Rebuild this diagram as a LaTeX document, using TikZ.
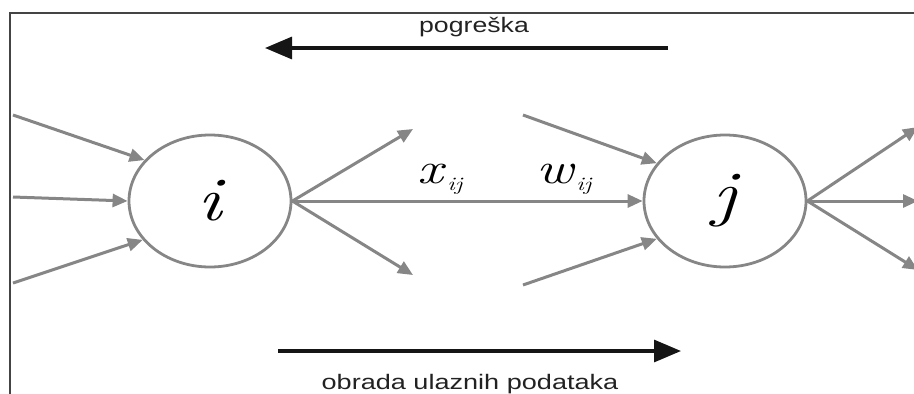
\documentclass[tikz,border=0pt]{standalone}
\usepackage{fontspec}
\newfontfamily\labfont{Liberation Sans}
\usetikzlibrary{shapes.geometric,arrows.meta}
\definecolor{linegray}{HTML}{868686}
\definecolor{framegray}{HTML}{444444}
\definecolor{arrowblack}{HTML}{151515}
\definecolor{textdark}{HTML}{222222}
\tikzset{
  neuron/.style={ellipse, draw=linegray, line width=2.8pt, minimum width=162pt,
    minimum height=132pt, inner sep=0pt, text=black,
    font=\fontsize{62}{62}\selectfont\itshape},
  conn/.style={draw=linegray, line width=3pt, -{Triangle[length=15pt,width=13pt]}},
  flow/.style={draw=arrowblack, line width=3.2pt, -{Triangle[length=27pt,width=22pt]}},
  caption/.style={font=\labfont\fontsize{21}{21}\selectfont, text=textdark, inner sep=0pt, anchor=base},
  weight/.style={font=\fontsize{44}{44}\selectfont\itshape, text=black, inner sep=0pt, anchor=base},
}
\begin{document}
\begin{tikzpicture}[x=1pt,y=-1pt]
\useasboundingbox (0,0) rectangle (914,394);
% frame
\draw[framegray, line width=2pt] (10,394) -- (10,13) -- (914,13);

% neurons
\node[neuron] (i) at (210,201) {\scalebox{1.3}[1]{i}};
\node[neuron] (j) at (725,201) {\scalebox{1.3}[1]{j}};

% free ends
\coordinate (ia1) at (13,115);
\coordinate (ia2) at (13,197);
\coordinate (ia3) at (13,283);
\coordinate (io1) at (413,129);
\coordinate (io3) at (413,275);
\coordinate (ja1) at (523,115);
\coordinate (ja3) at (523,285);
\coordinate (jo1) at (918,127);
\coordinate (jo2) at (918,201);
\coordinate (jo3) at (918,270);

% inputs of i
\draw[conn] (ia1) -- (i.148);
\draw[conn] (ia2) -- (i.180);
\draw[conn] (ia3) -- (i.210);
% outputs of i
\draw[conn] (i.east) -- (io1);
\draw[conn] (i.east) -- (io3);
\draw[conn] (i.east) -- (j.west);
% inputs of j
\draw[conn] (ja1) -- (j.151);
\draw[conn] (ja3) -- (j.209);
% outputs of j
\draw[conn] (j.east) -- (jo1);
\draw[conn] (j.east) -- (jo2);
\draw[conn] (j.east) -- (jo3);

% weight labels
\node[weight] (x) at (440,183) {\scalebox{1.3}[1]{x\hspace{3pt}\raisebox{-7pt}{\fontsize{19}{19}\selectfont ij}}};
\node[weight] (w) at (564,183) {\scalebox{1.3}[1]{w\hspace{2pt}\raisebox{-7pt}{\fontsize{19}{19}\selectfont ij}}};

% flow arrows
\coordinate (es) at (668,48);
\coordinate (ee) at (265,48);
\draw[flow] (es) -- (ee);
\node[caption] (err) at (474,32) {\scalebox{1.27}[1]{pogreška}};

\coordinate (fs) at (278,351);
\coordinate (fe) at (681,351);
\draw[flow] (fs) -- (fe);
\node[caption] (proc) at (470,389) {\scalebox{1.29}[1]{obrada ulaznih podataka}};
\end{tikzpicture}
\end{document}
